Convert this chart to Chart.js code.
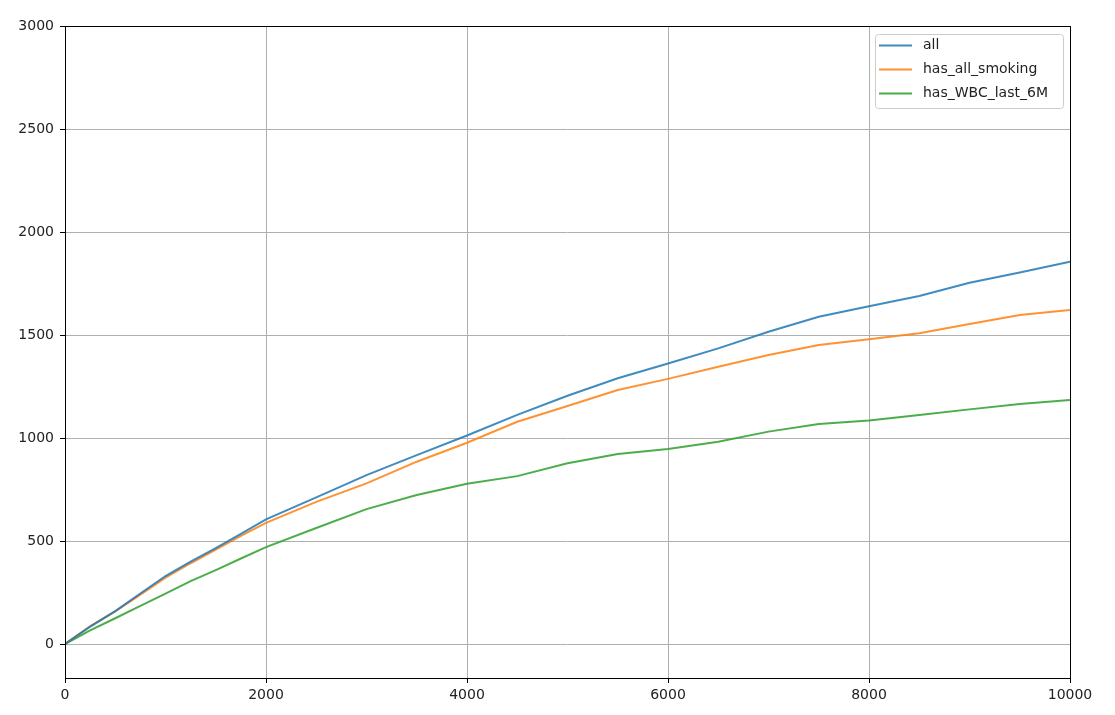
<!DOCTYPE html>
<html>
<head>
<meta charset="utf-8">
<script src="https://cdn.jsdelivr.net/npm/chart.js@4"></script>
<style>
  body { margin: 0; background: #fff; }
</style>
</head>
<body>
<canvas id="cumChart" width="1115" height="715"></canvas>
<script>
// data
const xValues = [0, 250, 500, 750, 1000, 1250, 1500, 1750, 2000, 2500, 3000, 3500, 4000,
  4500, 5000, 5500, 6000, 6500, 7000, 7500, 8000, 8500, 9000, 9500, 10000];
const allSeries = [0, 84, 160, 245, 330, 400, 466, 535, 605, 712, 820, 917, 1012,
  1112, 1205, 1290, 1362, 1435, 1516, 1589, 1640, 1689, 1754, 1803, 1856];
const smokingSeries = [0, 86, 158, 240, 322, 392, 458, 525, 588, 690, 780, 885, 977,
  1079, 1155, 1233, 1287, 1346, 1403, 1451, 1479, 1508, 1553, 1597, 1621];
const wbcSeries = [0, 66, 125, 185, 245, 305, 359, 415, 470, 563, 655, 723, 778,
  815, 877, 922, 947, 982, 1031, 1068, 1085, 1112, 1139, 1165, 1184];
const seriesLabels = ["all", "has_all_smoking", "has_WBC_last_6M"];
const xTicks = [0, 2000, 4000, 6000, 8000, 10000];
const yTicks = [0, 500, 1000, 1500, 2000, 2500, 3000];

const colors = ["rgba(31,119,180,0.85)", "rgba(255,127,14,0.85)", "rgba(44,160,44,0.85)"];
const font = { family: "DejaVu Sans", size: 14 };

const toPoints = (ys) => ys.map((y, i) => ({ x: xValues[i], y: y }));

// black frame round the plot (like the spines)
const framePlugin = {
  id: "frame",
  afterDatasetsDraw(chart) {
    const a = chart.chartArea;
    const ctx = chart.ctx;
    ctx.save();
    ctx.strokeStyle = "#000";
    ctx.lineWidth = 1;
    ctx.strokeRect(Math.round(a.left) + 0.5, Math.round(a.top) + 0.5,
      Math.round(a.right - a.left), Math.round(a.bottom - a.top));
    ctx.restore();
  },
};

// legend box in the top right corner
const legendPlugin = {
  id: "boxLegend",
  afterDraw(chart) {
    const ctx = chart.ctx;
    const a = chart.chartArea;
    const boxW = 188, boxH = 74;
    const x0 = a.right - 7 - boxW, y0 = a.top + 8;
    ctx.save();
    ctx.fillStyle = "rgba(255,255,255,0.8)";
    ctx.strokeStyle = "#cccccc";
    ctx.lineWidth = 1;
    ctx.beginPath();
    ctx.roundRect(x0 + 0.5, y0 + 0.5, boxW, boxH, 3);
    ctx.fill();
    ctx.stroke();
    ctx.font = font.size + "px " + font.family;
    ctx.textBaseline = "middle";
    chart.data.datasets.forEach((ds, i) => {
      const yy = y0 + 11.5 + i * 24;
      ctx.strokeStyle = ds.borderColor;
      ctx.lineWidth = 2;
      ctx.beginPath();
      ctx.moveTo(x0 + 4, yy);
      ctx.lineTo(x0 + 37, yy);
      ctx.stroke();
      ctx.fillStyle = "#222";
      ctx.fillText(ds.label, x0 + 48, yy);
    });
    ctx.restore();
  },
};

new Chart(document.getElementById("cumChart"), {
  type: "line",
  data: {
    datasets: [allSeries, smokingSeries, wbcSeries].map((s, i) => ({
      label: seriesLabels[i],
      data: toPoints(s),
      borderColor: colors[i],
      backgroundColor: colors[i],
      borderWidth: 2,
      pointRadius: 0,
      tension: 0,
    })),
  },
  options: {
    responsive: false,
    animation: false,
    layout: { padding: { left: 0, top: 26, right: 45, bottom: 0 } },
    plugins: {
      legend: { display: false },
      tooltip: { enabled: false },
    },
    scales: {
      x: {
        type: "linear",
        min: 0,
        max: 10000,
        afterBuildTicks: (axis) => { axis.ticks = xTicks.map((v) => ({ value: v })); },
        afterFit: (axis) => { axis.height = 37; },
        ticks: { color: "#222", font: font, padding: 4, maxRotation: 0,
          callback: (v) => String(v) },
        grid: { color: "#b0b0b0", tickColor: "#000", tickLength: 5, lineWidth: 1 },
        border: { display: false },
      },
      y: {
        min: -165,
        max: 3000,
        afterBuildTicks: (axis) => { axis.ticks = yTicks.map((v) => ({ value: v })); },
        afterFit: (axis) => { axis.width = 65; },
        ticks: { color: "#222", font: font, padding: 6, callback: (v) => String(v) },
        grid: { color: "#b0b0b0", tickColor: "#000", tickLength: 5, lineWidth: 1 },
        border: { display: false },
      },
    },
  },
  plugins: [framePlugin, legendPlugin],
});
</script>
</body>
</html>
